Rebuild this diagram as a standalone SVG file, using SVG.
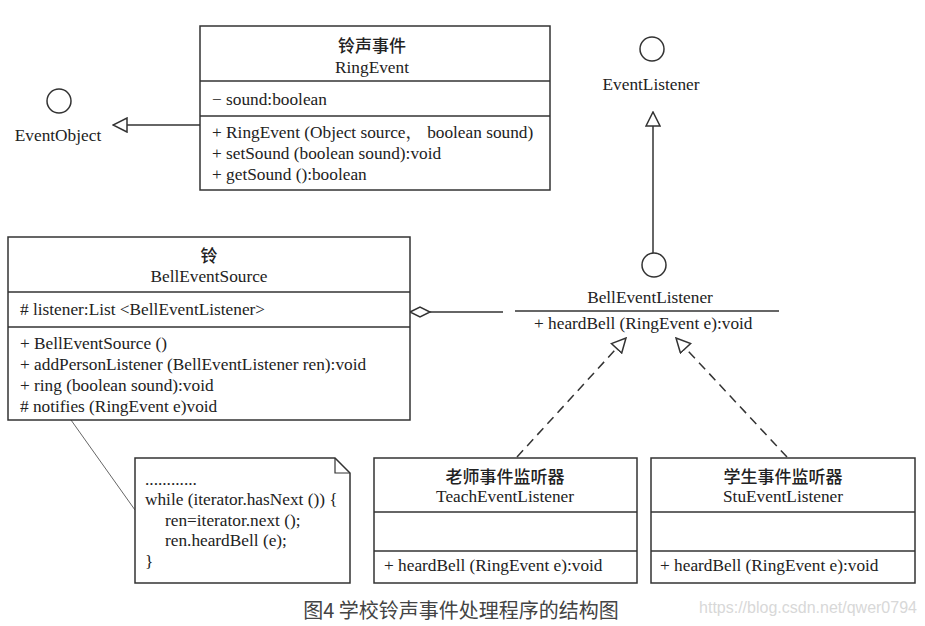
<svg xmlns="http://www.w3.org/2000/svg" width="925" height="626" viewBox="0 0 925 626">
<defs>
<style>
.box{fill:#fff;stroke:#333;stroke-width:1.5}
.ln{stroke:#333;stroke-width:1.5;fill:none}
.t{font-family:"Liberation Serif","Noto Serif CJK SC","Noto Sans CJK SC",serif;font-size:17.3px;fill:#222}
.c{text-anchor:middle}
.cjk{font-family:"Noto Sans CJK SC",sans-serif;font-size:17px;font-weight:500;fill:#222;text-anchor:middle}
.dash{stroke:#333;stroke-width:1.5;fill:none;stroke-dasharray:9 6}
</style>
<marker id="tri" markerWidth="16" markerHeight="16" refX="15" refY="8" orient="auto" markerUnits="userSpaceOnUse">
<path d="M1,1 L15,8 L1,15 Z" fill="#fff" stroke="#333" stroke-width="1.5"/>
</marker>
</defs>
<rect width="925" height="626" fill="#fff"/>

<g id="connectors">
<line class="ln" x1="200" y1="125" x2="113" y2="125" marker-end="url(#tri)"/>
<line class="ln" x1="653" y1="253" x2="653" y2="112" marker-end="url(#tri)"/>
<line class="ln" x1="503" y1="312" x2="430" y2="312"/>
<path d="M410,312 L420,307 L430,312 L420,317 Z" fill="#fff" stroke="#333" stroke-width="1.5"/>
<line class="dash" x1="517" y1="457" x2="626" y2="338" marker-end="url(#tri)"/>
<line class="dash" x1="787" y1="457" x2="676" y2="338" marker-end="url(#tri)"/>
<line x1="71" y1="420" x2="135" y2="510" stroke="#666" stroke-width="1"/>
</g>

<g id="EventObject">
<circle cx="59" cy="101" r="12" fill="#fff" stroke="#333" stroke-width="1.5"/>
<text class="t c" x="58" y="141">EventObject</text>
</g>

<g id="EventListener">
<circle cx="652" cy="49" r="12" fill="#fff" stroke="#333" stroke-width="1.5"/>
<text class="t c" x="651" y="90">EventListener</text>
</g>

<g id="RingEvent">
<rect class="box" x="200" y="26" width="350" height="164"/>
<line class="ln" x1="200" y1="81" x2="550" y2="81"/>
<line class="ln" x1="200" y1="116" x2="550" y2="116"/>
<text class="cjk" x="372" y="52">铃声事件</text>
<text class="t c" x="372" y="73">RingEvent</text>
<text class="t" x="212" y="105">− sound:boolean</text>
<text class="t" x="212" y="138">+ RingEvent (Object source， boolean sound)</text>
<text class="t" x="212" y="159">+ setSound (boolean sound):void</text>
<text class="t" x="212" y="180">+ getSound ():boolean</text>
</g>

<g id="BellEventSource">
<rect class="box" x="8" y="237" width="402" height="183"/>
<line class="ln" x1="8" y1="292" x2="410" y2="292"/>
<line class="ln" x1="8" y1="327" x2="410" y2="327"/>
<text class="cjk" x="209" y="262">铃</text>
<text class="t c" x="209" y="282">BellEventSource</text>
<text class="t" x="20" y="315"># listener:List &lt;BellEventListener&gt;</text>
<text class="t" x="20" y="349">+ BellEventSource ()</text>
<text class="t" x="20" y="370">+ addPersonListener (BellEventListener ren):void</text>
<text class="t" x="20" y="391">+ ring (boolean sound):void</text>
<text class="t" x="20" y="412"># notifies (RingEvent e)void</text>
</g>

<g id="BellEventListener">
<circle cx="654" cy="265" r="12" fill="#fff" stroke="#333" stroke-width="1.5"/>
<text class="t c" x="650" y="303">BellEventListener</text>
<line class="ln" x1="515" y1="311" x2="779" y2="311"/>
<text class="t" x="534" y="329">+ heardBell (RingEvent e):void</text>
</g>

<g id="Note">
<path d="M135,458 L335,458 L350,473 L350,583 L135,583 Z" fill="#fff" stroke="#333" stroke-width="1.5"/>
<path d="M335,458 L335,473 L350,473" fill="none" stroke="#333" stroke-width="1.2"/>
<text class="t" x="145" y="485">............</text>
<text class="t" x="145" y="505">while (iterator.hasNext ()) {</text>
<text class="t" x="165" y="526">ren=iterator.next ();</text>
<text class="t" x="165" y="546">ren.heardBell (e);</text>
<text class="t" x="145" y="567">}</text>
</g>

<g id="TeachEventListener">
<rect class="box" x="374" y="458" width="263" height="125"/>
<line class="ln" x1="374" y1="512" x2="637" y2="512"/>
<line class="ln" x1="374" y1="551" x2="637" y2="551"/>
<text class="cjk" x="505" y="483">老师事件监听器</text>
<text class="t c" x="505" y="502">TeachEventListener</text>
<text class="t" x="384" y="571">+ heardBell (RingEvent e):void</text>
</g>

<g id="StuEventListener">
<rect class="box" x="651" y="458" width="264" height="125"/>
<line class="ln" x1="651" y1="512" x2="915" y2="512"/>
<line class="ln" x1="651" y1="551" x2="915" y2="551"/>
<text class="cjk" x="783" y="483">学生事件监听器</text>
<text class="t c" x="783" y="502">StuEventListener</text>
<text class="t" x="660" y="571">+ heardBell (RingEvent e):void</text>
</g>

<text x="461" y="618" text-anchor="middle" font-family="'Noto Sans CJK SC',sans-serif" font-size="20" fill="#444">图4 学校铃声事件处理程序的结构图</text>
<text x="808" y="613" text-anchor="middle" font-family="'Liberation Sans',sans-serif" font-size="16" fill="#d8d8d8">https://blog.csdn.net/qwer0794</text>
</svg>
